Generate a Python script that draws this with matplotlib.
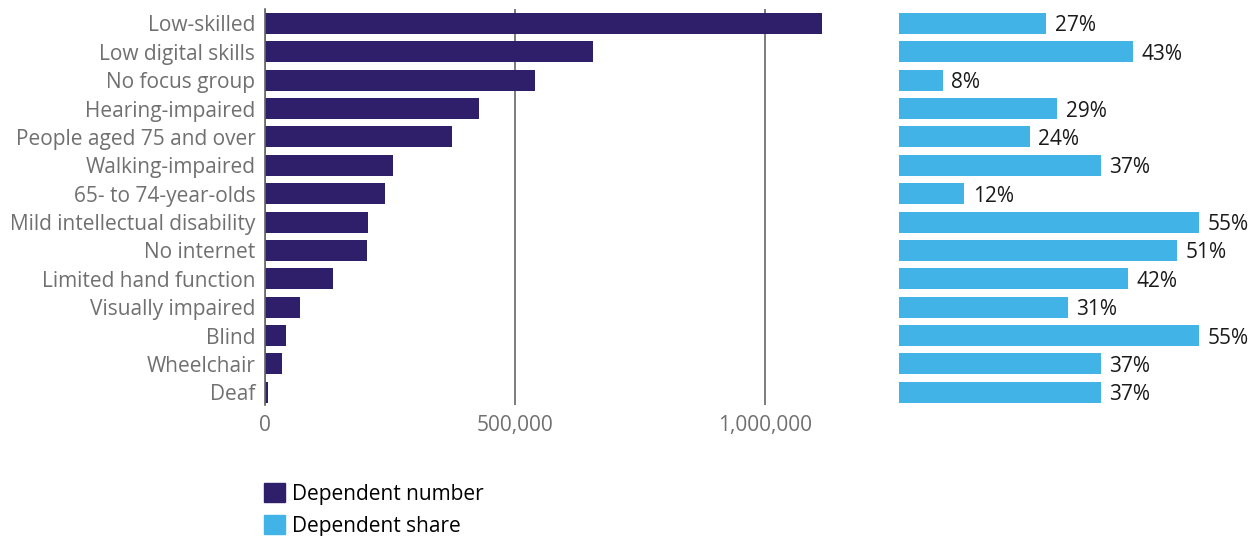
import matplotlib.pyplot as plt
from matplotlib.patches import Patch
from matplotlib.ticker import FuncFormatter

# Data per group
groups = ['Low-skilled', 'Low digital skills', 'No focus group', 'Hearing-impaired',
          'People aged 75 and over', 'Walking-impaired', '65- to 74-year-olds',
          'Mild intellectual disability', 'No internet', 'Limited hand function',
          'Visually impaired', 'Blind', 'Wheelchair', 'Deaf']
dependent_number = [1114000, 656000, 540000, 428000, 374000, 256000, 240000,
                    206000, 204000, 136000, 70000, 42000, 34000, 6000]
dependent_share = [27, 43, 8, 29, 24, 37, 12, 55, 51, 42, 31, 55, 37, 37]

dark = '#2f1e6a'
light = '#42b3e6'
grey_text = '#707070'
fs = 15
plt.rcParams['font.family'] = ['Open Sans', 'DejaVu Sans']

W, H = 1258, 536
fig = plt.figure(figsize=(W / 100, H / 100), dpi=100)

y_top, y_bot = 9, 405
ax1 = fig.add_axes([265 / W, 1 - y_bot / H, (840 - 265) / W, (y_bot - y_top) / H])
ax2 = fig.add_axes([899 / W, 1 - y_bot / H, (1253 - 899) / W, (y_bot - y_top) / H])

pos = list(range(len(groups)))

# Left panel: absolute numbers
ax1.barh(pos, dependent_number, height=0.74, color=dark, zorder=2)
ax1.set_xlim(0, 1150000)
ax1.set_ylim(13.45, -0.51)
ax1.set_yticks(pos)
ax1.set_yticklabels(groups, fontsize=fs, color=grey_text)
for lbl in ax1.get_yticklabels():
    lbl.set_va('center_baseline')
ax1.set_xticks([0, 500000, 1000000])
ax1.xaxis.set_major_formatter(FuncFormatter(lambda v, p: f'{int(v):,}'))
ax1.tick_params(axis='x', length=0, pad=7, labelsize=fs, labelcolor=grey_text)
ax1.tick_params(axis='y', length=0, pad=7)
for s in ['top', 'right', 'bottom']:
    ax1.spines[s].set_visible(False)
ax1.spines['left'].set_color('#666666')
ax1.spines['left'].set_linewidth(1.2)
ax1.grid(axis='x', color='#666666', linewidth=1.2, zorder=1)

# Right panel: shares
ax2.barh(pos, dependent_share, height=0.74, color=light)
ax2.set_xlim(0, 65)
ax2.set_ylim(13.45, -0.51)
ax2.axis('off')
for i, v in enumerate(dependent_share):
    ax2.text(v + 1.6, i, f'{v}%', va='center_baseline', ha='left',
             fontsize=fs, color='#1a1a1a')

# Legend
handles = [Patch(color=dark, label='Dependent number'),
           Patch(color=light, label='Dependent share')]
fig.legend(handles=handles, loc='upper left', bbox_to_anchor=(256 / W, 1 - 475 / H),
           frameon=False, fontsize=fs, handlelength=1.0, handleheight=1.0,
           handletextpad=0.35, labelspacing=0.5, borderaxespad=0)

fig.savefig('out.png', dpi=100)
